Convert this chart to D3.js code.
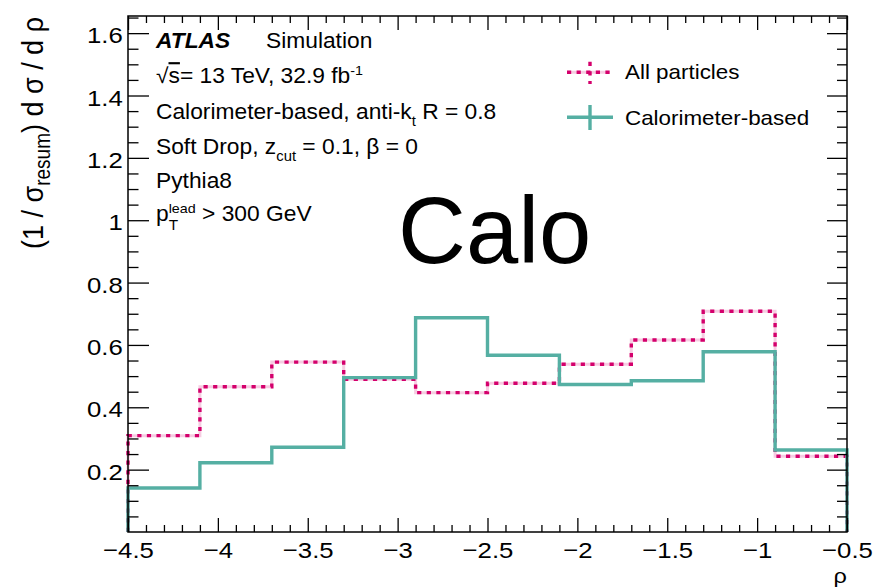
<!DOCTYPE html>
<html>
<head>
<meta charset="utf-8">
<script src="https://cdn.jsdelivr.net/npm/d3@7"></script>
<style>
  html, body { margin: 0; padding: 0; background: #fff; }
  svg { display: block; }
  text { font-family: "Liberation Sans", Arial, Helvetica, sans-serif; fill: #000; white-space: pre; }
</style>
</head>
<body>
<svg id="chart" width="875" height="587"></svg>
<script>
// Soft-drop jet mass (rho) distributions, 10 bins of width 0.4
const binEdges = [-4.5, -4.1, -3.7, -3.3, -2.9, -2.5, -2.1, -1.7, -1.3, -0.9, -0.5];
const allParticles = [0.309, 0.466, 0.545, 0.490, 0.447, 0.477, 0.538, 0.616, 0.708, 0.243];
const calorimeterBased = [0.141, 0.222, 0.272, 0.495, 0.687, 0.567, 0.473, 0.485, 0.578, 0.263];
const seriesNames = ["All particles", "Calorimeter-based"];

// Axis ticks and their labels
const xTickValues = [-4.5, -4, -3.5, -3, -2.5, -2, -1.5, -1, -0.5];
const xTickLabels = ["\u22124.5", "\u22124", "\u22123.5", "\u22123", "\u22122.5", "\u22122", "\u22121.5", "\u22121", "\u22120.5"];
const yTickValues = [0.2, 0.4, 0.6, 0.8, 1, 1.2, 1.4, 1.6];
const yTickLabels = ["0.2", "0.4", "0.6", "0.8", "1", "1.2", "1.4", "1.6"];
const xDomain = [-4.5, -0.5];
const yDomain = [0, 1.655];

const PINK = "#d4006c";
const TEAL = "#55afa3";
const SX = 1.12;      // horizontal stretch for axis text
const SX_INFO = 1.06; // horizontal stretch for annotation text

const svg = d3.select("#chart");
const L = 128, R = 847, T = 16, B = 532;

const x = d3.scaleLinear().domain(xDomain).range([L, R]);
const y = d3.scaleLinear().domain(yDomain).range([B, T]);

// minor tick positions
const xMinor = d3.range(0, 41).map(i => +(xDomain[0] + i * 0.1).toFixed(2))
  .filter(v => Math.abs(v * 2 - Math.round(v * 2)) > 1e-6);
const yMinor = d3.range(0, 34).map(i => +(i * 0.05).toFixed(2))
  .filter(v => v <= yDomain[1] && Math.abs(v * 5 - Math.round(v * 5)) > 1e-6);

function addAxis(axis, tx, ty) {
  const g = svg.append("g")
    .attr("transform", `translate(${tx},${ty})`)
    .attr("font-family", null).attr("font-size", null)
    .attr("color", "#000")
    .call(axis);
  g.select(".domain").remove();
  g.selectAll(".tick line").attr("stroke-width", 1.3);
  return g;
}

// ----- histograms -----
function stepPoints(vals) {
  const pts = [[binEdges[0], 0]];
  vals.forEach((v, i) => pts.push([binEdges[i], v]));
  pts.push([binEdges[binEdges.length - 1], vals[vals.length - 1]]);
  pts.push([binEdges[binEdges.length - 1], 0]);
  return pts;
}
const stepLine = d3.line().x(d => x(d[0])).y(d => y(d[1])).curve(d3.curveStepAfter);

const hist = svg.append("g");
hist.append("path").attr("d", stepLine(stepPoints(allParticles)))
  .attr("fill", "none").attr("stroke", PINK).attr("stroke-opacity", 0.2).attr("stroke-width", 3);
hist.append("path").attr("d", stepLine(stepPoints(allParticles)))
  .attr("fill", "none").attr("stroke", PINK).attr("stroke-width", 3.4)
  .attr("stroke-dasharray", "4.2 5.4");
hist.append("path").attr("d", stepLine(stepPoints(calorimeterBased)))
  .attr("fill", "none").attr("stroke", TEAL).attr("stroke-width", 3.4);

// ----- axes -----
const bottomMajor = addAxis(d3.axisBottom(x).tickValues(xTickValues).tickSize(-14)
  .tickFormat((d, i) => xTickLabels[i]), 0, B);
bottomMajor.selectAll(".tick text")
  .attr("y", 26.3).attr("dy", null)
  .attr("transform", `scale(${SX},1)`)
  .style("font-size", "23px");
addAxis(d3.axisBottom(x).tickValues(xMinor).tickSize(-7).tickFormat(() => ""), 0, B);
addAxis(d3.axisTop(x).tickValues(xTickValues).tickSize(-14).tickFormat(() => ""), 0, T);
addAxis(d3.axisTop(x).tickValues(xMinor).tickSize(-7).tickFormat(() => ""), 0, T);

const leftMajor = addAxis(d3.axisLeft(y).tickValues(yTickValues).tickSize(-21)
  .tickFormat((d, i) => yTickLabels[i]), L, 0);
leftMajor.selectAll(".tick text")
  .attr("x", -5.3 / SX).attr("y", 9.5).attr("dy", null)
  .attr("transform", `scale(${SX},1)`)
  .style("font-size", "23px");
addAxis(d3.axisLeft(y).tickValues(yMinor).tickSize(-10.5).tickFormat(() => ""), L, 0);
addAxis(d3.axisRight(y).tickValues(yTickValues).tickSize(-20).tickFormat(() => ""), R, 0);
addAxis(d3.axisRight(y).tickValues(yMinor).tickSize(-10).tickFormat(() => ""), R, 0);

// frame
svg.append("rect").attr("x", L).attr("y", T).attr("width", R - L).attr("height", B - T)
  .attr("fill", "none").attr("stroke", "#000").attr("stroke-width", 1.5);

// ----- axis titles -----
const yTitle = svg.append("text")
  .attr("transform", `translate(43,17) scale(${SX},1) rotate(-90)`)
  .attr("text-anchor", "end")
  .style("font-size", "27px");
yTitle.append("tspan").text("(1 / \u03c3");
yTitle.append("tspan").attr("dy", 6).style("font-size", "19px").text("resum");
yTitle.append("tspan").attr("dy", -6).text(") d \u03c3 / d \u03c1");

svg.append("text")
  .attr("transform", `translate(${R},582.5) scale(${SX},1)`)
  .attr("text-anchor", "end")
  .style("font-size", "21px")
  .text("\u03c1");

// ----- text annotations -----
const info = svg.append("g").attr("transform", `translate(156,0) scale(${SX_INFO},1)`);

// writes consecutive runs of text, advancing by each run's width
function runs(g, x0, yb, parts) {
  let cx = x0;
  parts.forEach(p => {
    const t = g.append("text")
      .attr("x", p.x !== undefined ? p.x : cx)
      .attr("y", yb + (p.dy || 0))
      .style("font-size", p.size + "px")
      .text(p.t);
    if (p.weight) t.style("font-weight", p.weight);
    if (p.italic) t.style("font-style", "italic");
    if (p.overline) t.style("text-decoration", "overline");
    if (!p.noAdvance) cx = (p.x !== undefined ? p.x : cx) + t.node().getComputedTextLength();
  });
}
const FS = 21.5;
runs(info, 0, 48.5, [{ t: "ATLAS", size: FS, weight: "bold", italic: true }]);
runs(info, (266 - 156) / SX_INFO, 48.5, [{ t: "Simulation", size: FS }]);
runs(info, 0, 83.5, [
  { t: "\u221a", size: FS },
  { t: "s", size: FS, overline: true },
  { t: "= 13 TeV, 32.9 fb", size: FS },
  { t: "-1", size: 13.5, dy: -8 }
]);
runs(info, 0, 119, [
  { t: "Calorimeter-based, anti-k", size: FS },
  { t: "t", size: 14, dy: 7 },
  { t: " R = 0.8", size: FS }
]);
runs(info, 0, 154, [
  { t: "Soft Drop, z", size: FS },
  { t: "cut", size: 14, dy: 7 },
  { t: " = 0.1, \u03b2 = 0", size: FS }
]);
runs(info, 0, 188, [{ t: "Pythia8", size: FS }]);
runs(info, 0, 221, [
  { t: "p", size: FS },
  { t: "T", size: 14.5, dy: 9, noAdvance: true },
  { t: "lead", size: 13.5, dy: -8 },
  { t: " > 300 GeV", size: FS }
]);

// large label
svg.append("text").attr("x", 398).attr("y", 263).style("font-size", "94px").text("Calo");

// ----- legend -----
const leg = svg.append("g");
// All particles
leg.append("line").attr("x1", 567).attr("x2", 610).attr("y1", 72.3).attr("y2", 72.3)
  .attr("stroke", PINK).attr("stroke-opacity", 0.2).attr("stroke-width", 3);
leg.append("line").attr("x1", 567).attr("x2", 610).attr("y1", 72.3).attr("y2", 72.3)
  .attr("stroke", PINK).attr("stroke-width", 3.4).attr("stroke-dasharray", "4.2 5.4");
leg.append("line").attr("x1", 590).attr("x2", 590).attr("y1", 61.7).attr("y2", 84)
  .attr("stroke", PINK).attr("stroke-width", 3.4).attr("stroke-dasharray", "4.2 5.4");
// Calorimeter-based
leg.append("line").attr("x1", 567).attr("x2", 613).attr("y1", 117.3).attr("y2", 117.3)
  .attr("stroke", TEAL).attr("stroke-width", 3.4);
leg.append("line").attr("x1", 590).attr("x2", 590).attr("y1", 105).attr("y2", 130)
  .attr("stroke", TEAL).attr("stroke-width", 3.4);

const legText = svg.append("g").attr("transform", `translate(625,0) scale(${SX},1)`);
legText.append("text").attr("x", 0).attr("y", 79.5).style("font-size", "20px").text(seriesNames[0]);
legText.append("text").attr("x", 0).attr("y", 125).style("font-size", "20px").text(seriesNames[1]);
</script>
</body>
</html>
